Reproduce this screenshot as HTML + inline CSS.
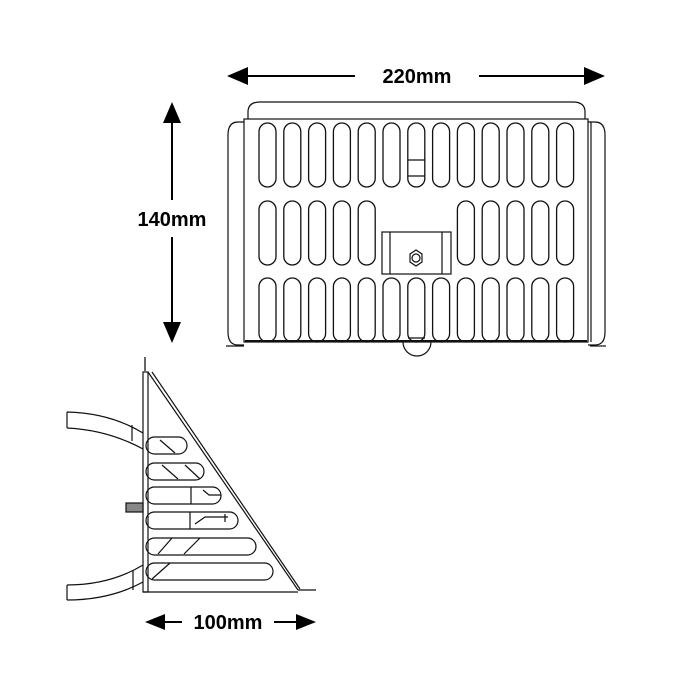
<!DOCTYPE html>
<html><head><style>body{margin:0;background:#fff}svg{display:block}</style></head>
<body>
<svg width="700" height="700" viewBox="0 0 700 700" xmlns="http://www.w3.org/2000/svg">
<defs>
 <rect id="s" width="17" height="64" rx="8.5" fill="none" stroke="#111" stroke-width="1.3"/>
</defs>
<g fill="#000">
 <line x1="245" y1="76" x2="355" y2="76" stroke="#000" stroke-width="2"/>
 <line x1="479" y1="76" x2="588" y2="76" stroke="#000" stroke-width="2"/>
 <polygon points="227,76 248,67 248,85"/>
 <polygon points="605,76 584,67 584,85"/>
 <text x="417" y="83" font-family="Liberation Sans, sans-serif" font-weight="bold" font-size="20" text-anchor="middle">220mm</text>
 <line x1="172" y1="120" x2="172" y2="200" stroke="#000" stroke-width="2"/>
 <line x1="172" y1="237" x2="172" y2="325" stroke="#000" stroke-width="2"/>
 <polygon points="172,102 163,123 181,123"/>
 <polygon points="172,343 163,322 181,322"/>
 <text x="172" y="226" font-family="Liberation Sans, sans-serif" font-weight="bold" font-size="20" text-anchor="middle">140mm</text>
 <line x1="160" y1="622" x2="182" y2="622" stroke="#000" stroke-width="2"/>
 <line x1="274" y1="622" x2="300" y2="622" stroke="#000" stroke-width="2"/>
 <polygon points="145,622 165,614 165,630"/>
 <polygon points="316,622 296,614 296,630"/>
 <text x="228" y="629" font-family="Liberation Sans, sans-serif" font-weight="bold" font-size="20" text-anchor="middle">100mm</text>
</g>
<g fill="none" stroke="#111" stroke-width="1.2">
 <path d="M248,119 V112 Q248,102 260,102 H573 Q585,102 585,112 V119"/>
 <rect x="244" y="119" width="344" height="223"/>
 <path d="M244,122 H238 Q228,122 228,135 V332 Q228,345 238,345 H244"/>
 <path d="M588,122 H595 Q605,122 605,135 V332 Q605,345 595,345 H588"/>
 <line x1="591" y1="122" x2="591" y2="342"/>
 <line x1="226" y1="346" x2="244" y2="346"/><line x1="590" y1="346" x2="606" y2="346"/>
 <line x1="245" y1="341" x2="587" y2="341" stroke-width="2"/>
 <path d="M403,342 A14,14 0 0 0 431,342"/>
</g>
<g>
 <use href="#s" x="259" y="123"/><use href="#s" x="283.8" y="123"/><use href="#s" x="308.6" y="123"/><use href="#s" x="333.4" y="123"/><use href="#s" x="358.2" y="123"/><use href="#s" x="383" y="123"/><use href="#s" x="407.8" y="123"/><use href="#s" x="432.6" y="123"/><use href="#s" x="457.4" y="123"/><use href="#s" x="482.2" y="123"/><use href="#s" x="507" y="123"/><use href="#s" x="531.8" y="123"/><use href="#s" x="556.6" y="123"/>
 <use href="#s" x="259" y="201"/><use href="#s" x="283.8" y="201"/><use href="#s" x="308.6" y="201"/><use href="#s" x="333.4" y="201"/><use href="#s" x="358.2" y="201"/><use href="#s" x="457.4" y="201"/><use href="#s" x="482.2" y="201"/><use href="#s" x="507" y="201"/><use href="#s" x="531.8" y="201"/><use href="#s" x="556.6" y="201"/>
 <use href="#s" x="259" y="278"/><use href="#s" x="283.8" y="278"/><use href="#s" x="308.6" y="278"/><use href="#s" x="333.4" y="278"/><use href="#s" x="358.2" y="278"/><use href="#s" x="383" y="278"/><use href="#s" x="407.8" y="278"/><use href="#s" x="432.6" y="278"/><use href="#s" x="457.4" y="278"/><use href="#s" x="482.2" y="278"/><use href="#s" x="507" y="278"/><use href="#s" x="531.8" y="278"/><use href="#s" x="556.6" y="278"/>
</g>
<g fill="none" stroke="#111" stroke-width="1.2">
 <rect x="382" y="232" width="69" height="42" fill="#fff"/>
 <line x1="390" y1="232" x2="390" y2="274"/><line x1="442" y1="232" x2="442" y2="274"/>
 <polygon points="410,254 416,250 422,254 422,262 416,266 410,262"/>
 <circle cx="416" cy="258" r="4"/>
 <line x1="408" y1="160" x2="425" y2="160"/><line x1="408" y1="176" x2="425" y2="176"/>
 <line x1="408" y1="338" x2="425" y2="338"/>
 <rect x="143" y="372" width="5" height="220"/>
 <line x1="145" y1="357" x2="145" y2="372" stroke-width="2" stroke="#666"/>
 <line x1="148" y1="372" x2="298" y2="590"/>
 <line x1="152" y1="372" x2="300" y2="589"/>
 <line x1="143" y1="592" x2="298" y2="592"/>
 <line x1="298" y1="590" x2="316" y2="590"/>
 <path d="M67,412 Q110,413 143,433 M67,428 Q108,430 143,449 M67,412 V428 M132,425 V441"/>
 <path d="M67,585 Q110,585 143,565 M67,600 Q110,600 143,582 M67,585 V600 M133,570 V590"/>
 <rect x="126" y="503" width="17" height="9" fill="#888"/>
 <rect x="146" y="437" width="41" height="17" rx="8.5"/>
 <rect x="146" y="463" width="58" height="17" rx="8.5"/>
 <rect x="146" y="487" width="75" height="17" rx="8.5"/>
 <rect x="146" y="512" width="92" height="17" rx="8.5"/>
 <rect x="146" y="538" width="110" height="17" rx="8.5"/>
 <rect x="146" y="563" width="127" height="17" rx="8.5"/>
 <path d="M160,440 L175,453 M162,465 L178,479 M185,465 L200,479 M191,487 V504 M203,490 L209,495 H221 M190,512 V529 M195,524 L205,517 H228 M225,514 V522 M172,538 L158,554 M200,538 L184,554 M170,563 L152,579"/>
</g>
</svg>
</body></html>
